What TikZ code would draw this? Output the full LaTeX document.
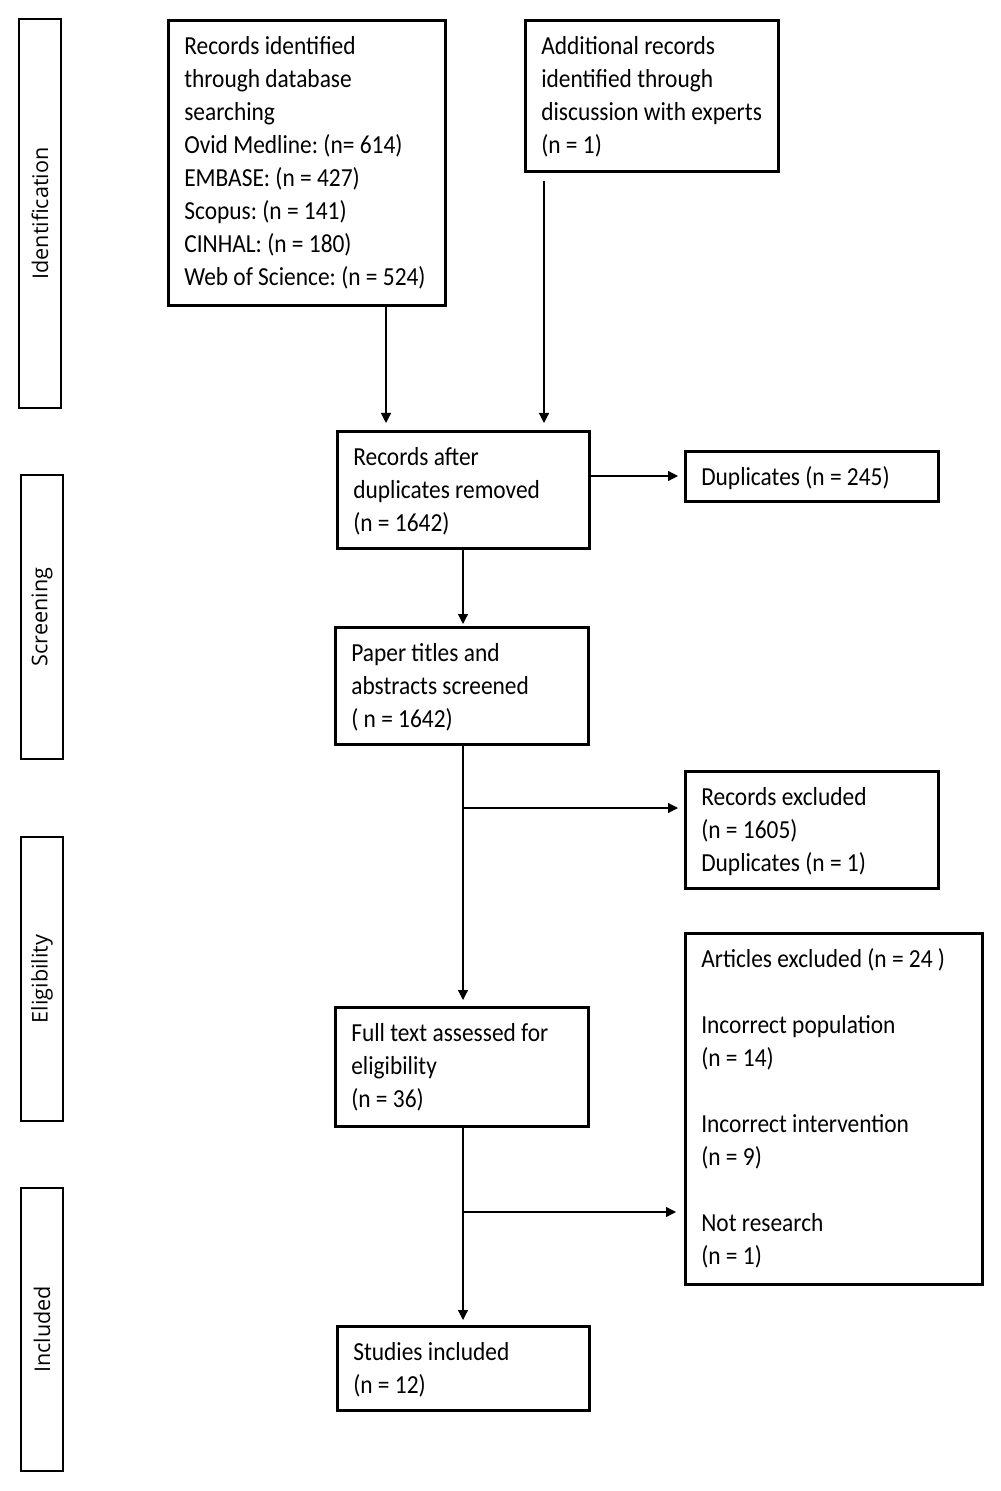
\documentclass[tikz,border=0pt]{standalone}
\usepackage{fontspec}
\setmainfont[FakeStretch=0.9]{Carlito}
\newfontfamily\sidefont{Open Sans}
\usetikzlibrary{arrows.meta}
\frenchspacing
\newcommand{\bx}[3]{\parbox[c][#2][t]{#1}{\vspace*{6.25pt}\hspace*{8pt}\parbox[t]{\dimexpr#1-10pt\relax}{\raggedright\frenchspacing\rule{0pt}{11pt}\ignorespaces#3}}}
\begin{document}
\begin{tikzpicture}[x=0.5pt,y=-0.5pt,
  box/.style={draw=black, line width=1.3pt, inner sep=0pt, anchor=north west,
    font=\fontsize{13pt}{16.5pt}\selectfont, text=black},
  side/.style={draw=black, line width=1.3pt, inner sep=0pt, rotate=90,
    minimum height=21pt, font=\sidefont\fontsize{10.8pt}{13pt}\selectfont},
  arr/.style={line width=0.6pt, draw=black, -{Triangle[length=5pt,width=5pt]}},
  ln/.style={line width=0.6pt, draw=black}]
\useasboundingbox (0,0) rectangle (1000,1491);
% side labels
\node[side, minimum width=194.5pt] (sid) at (40,213.5) {Identification};
\node[side, minimum width=142pt] (sscr) at (42,617) {Screening};
\node[side, minimum width=142pt] (selig) at (42,979) {Eligibility};
\node[side, minimum width=141.5pt] (sinc) at (42,1329.5) {Included};
% boxes
\node[box] (b1) at (167,19) {\bx{138.5pt}{142.5pt}{Records identified\\through database\\searching\\Ovid Medline: (n= 614)\\EMBASE: (n = 427)\\Scopus: (n = 141)\\CINHAL: (n = 180)\\Web of Science: (n = 524)}};
\node[box] (b2) at (524,19) {\bx{126.5pt}{75.5pt}{Additional records\\identified through\\discussion with experts\\(n = 1)}};
\node[box] (b3) at (336,430) {\bx{126pt}{58.5pt}{Records after\\duplicates removed\\(n = 1642)}};
\node[box] (dup) at (684,450) {\bx{126.5pt}{25pt}{Duplicates (n = 245)}};
\node[box] (b4) at (334,626) {\bx{126.5pt}{58.5pt}{Paper titles and\\abstracts screened\\( n = 1642)}};
\node[box] (rex) at (684,770) {\bx{126.5pt}{58.5pt}{Records excluded\\(n = 1605)\\Duplicates (n = 1)}};
\node[box] (art) at (684,932) {\bx{148.5pt}{175.5pt}{Articles excluded (n = 24 )\\\mbox{}\\Incorrect population\\(n = 14)\\\mbox{}\\Incorrect intervention\\(n = 9)\\\mbox{}\\Not research\\(n = 1)}};
\node[box] (b5) at (334,1006) {\bx{126.5pt}{59.5pt}{Full text assessed for\\eligibility\\(n = 36)}};
\node[box] (b6) at (336,1325) {\bx{126pt}{42pt}{Studies included\\(n = 12)}};
% helper coordinates
\coordinate (a1) at (386,0);
\coordinate (a2) at (544,0);
\coordinate (mx) at (463,0);
\coordinate (br1) at (463,808);
\coordinate (br2) at (463,1212);
\coordinate (dy) at (0,476);
% connectors
\draw[arr, shorten >=3.5pt] (b1.south -| a1) -- (b3.north -| a1);
\draw[arr, shorten >=3.5pt, shorten <=4pt] (b2.south -| a2) -- (b3.north -| a2);
\draw[arr, shorten >=3pt] (b3.east |- dy) -- (dup.west |- dy);
\draw[arr, shorten >=1pt] (b3.south -| mx) -- (b4.north -| mx);
\draw[arr, shorten >=3pt] (b4.south -| mx) -- (b5.north -| mx);
\draw[arr, shorten >=3pt] (br1) -- (rex.west |- br1);
\draw[arr, shorten >=2.5pt] (b5.south -| mx) -- (b6.north -| mx);
\draw[arr, shorten >=4pt] (br2) -- (art.west |- br2);
\end{tikzpicture}
\end{document}
